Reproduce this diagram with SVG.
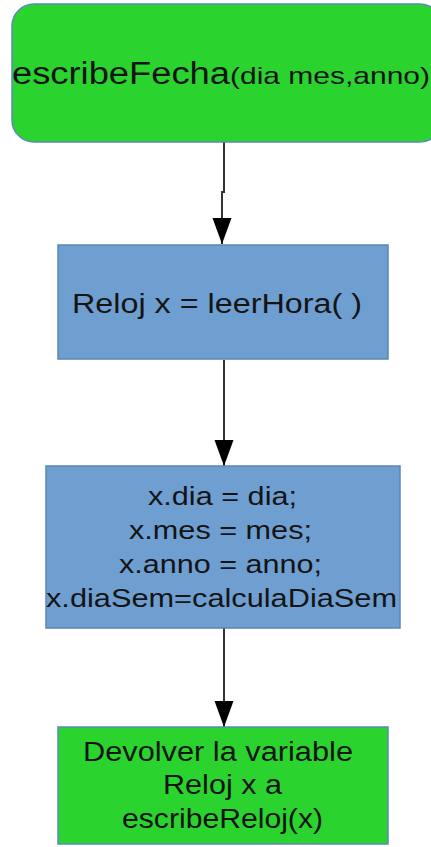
<svg xmlns="http://www.w3.org/2000/svg" width="431" height="847" viewBox="0 0 431 847">
<defs>
<style>
.t{font-family:"Liberation Sans",Arial,sans-serif;fill:#141414;}
.green{fill:#2ad32e;stroke:#5b8bb8;stroke-width:1.5;}
.blue{fill:#6f9fd1;stroke:#5b86b5;stroke-width:1.5;}
.conn{fill:none;stroke:#333;stroke-width:2;}
</style>
<marker id="arr" markerUnits="userSpaceOnUse" markerWidth="26" markerHeight="20" refX="26" refY="9.5" orient="auto">
<path d="M0,0 L26,9.5 L0,19 z" fill="#000"/>
</marker>
</defs>
<rect width="431" height="847" fill="#fff"/>
<g id="connectors">
<path class="conn" d="M224,142 V192 H222 V244" marker-end="url(#arr)"/>
<path class="conn" d="M224,360 V466" marker-end="url(#arr)"/>
<path class="conn" d="M224,628 V727" marker-end="url(#arr)"/>
</g>
<g id="node1">
<rect class="green" x="12" y="4" width="430" height="138" rx="22"/>
<text class="t" x="12" y="84" font-size="31" textLength="218" lengthAdjust="spacingAndGlyphs">escribeFecha</text>
<text class="t" x="230" y="84" font-size="24" textLength="200" lengthAdjust="spacingAndGlyphs">(dia mes,anno)</text>
</g>
<g id="node2">
<rect class="blue" x="58" y="245" width="330" height="114"/>
<text class="t" x="72" y="313" font-size="27" textLength="290" lengthAdjust="spacingAndGlyphs">Reloj x = leerHora( )</text>
</g>
<g id="node3">
<rect class="blue" x="46" y="466" width="354" height="162"/>
<text class="t" x="148" y="505" font-size="26" textLength="149" lengthAdjust="spacingAndGlyphs">x.dia = dia;</text>
<text class="t" x="129" y="539" font-size="26" textLength="183" lengthAdjust="spacingAndGlyphs">x.mes = mes;</text>
<text class="t" x="119" y="573" font-size="26" textLength="203" lengthAdjust="spacingAndGlyphs">x.anno = anno;</text>
<text class="t" x="46" y="607" font-size="26" textLength="351" lengthAdjust="spacingAndGlyphs">x.diaSem=calculaDiaSem</text>
</g>
<g id="node4">
<rect class="green" x="58" y="727" width="330" height="117"/>
<text class="t" x="83" y="761" font-size="27" textLength="270" lengthAdjust="spacingAndGlyphs">Devolver la variable</text>
<text class="t" x="163" y="794" font-size="27" textLength="119" lengthAdjust="spacingAndGlyphs">Reloj x a</text>
<text class="t" x="122" y="828" font-size="27" textLength="201" lengthAdjust="spacingAndGlyphs">escribeReloj(x)</text>
</g>
</svg>
